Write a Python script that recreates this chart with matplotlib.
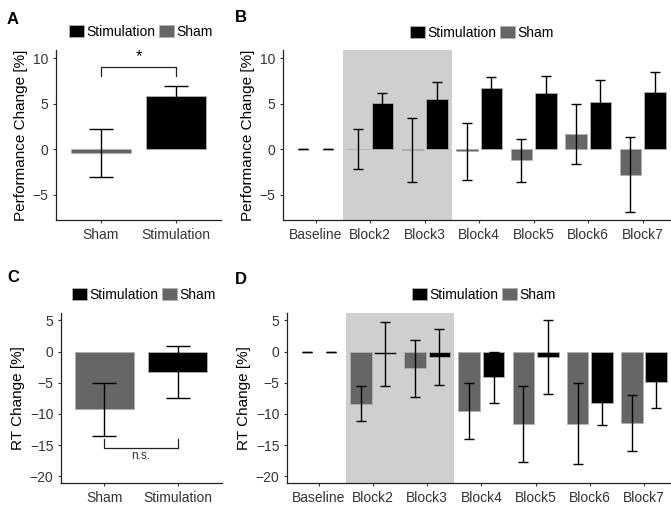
import matplotlib
matplotlib.use("Agg")
import matplotlib.pyplot as plt
from matplotlib.patches import Patch
import numpy as np

plt.rcParams["font.family"] = ["Liberation Sans", "DejaVu Sans"]

# --- data ---
groups = ["Sham", "Stimulation"]
perf_mean = [-0.4, 5.85]
perf_err = [2.65, 1.12]
rt_mean = [-9.29, -3.23]
rt_err = [4.24, 4.16]

blocks = ["Baseline", "Block2", "Block3", "Block4", "Block5", "Block6", "Block7"]
perf_sham = [0, -0.02, -0.12, -0.25, -1.22, 1.64, -2.8]
perf_sham_err = [0, 2.22, 3.5, 3.1, 2.37, 3.28, 4.15]
perf_stim = [0, 5.07, 5.5, 6.73, 6.21, 5.15, 6.29]
perf_stim_err = [0, 1.11, 1.85, 1.25, 1.84, 2.5, 2.17]

rt_sham = [0, -8.35, -2.66, -9.5, -11.7, -11.6, -11.5]
rt_sham_err = [0, 2.75, 4.55, 4.5, 6.1, 6.5, 4.5]
rt_stim = [0, -0.38, -0.9, -4.1, -0.9, -8.24, -4.85]
rt_stim_err = [0, 5.1, 4.5, 4.1, 5.9, 3.56, 4.2]

SHAM = "#666666"
STIM = "#000000"
EDGE = "#b0b0b0"
SHADE = "#cfcfcf"
TXT = "#333333"

W, H = 671, 505
fig = plt.figure(figsize=(W / 100, H / 100), dpi=100)


def px_axes(x0, y0, x1, y1):
    return fig.add_axes([x0 / W, 1 - y1 / H, (x1 - x0) / W, (y1 - y0) / H])


def style(ax, ylabel, yticks, ylim, xlim, labels):
    for s in ("top", "right"):
        ax.spines[s].set_visible(False)
    for s in ("left", "bottom"):
        ax.spines[s].set_linewidth(0.9)
        ax.spines[s].set_color("#222222")
    ax.set_ylim(*ylim)
    ax.set_xlim(*xlim)
    ax.set_yticks(yticks)
    ax.set_xticks(range(len(labels)))
    ax.set_xticklabels(labels)
    ax.tick_params(direction="out", length=2.5, width=0.8, color=TXT,
                   labelcolor=TXT, labelsize=10, pad=3)
    ax.set_ylabel(ylabel, fontsize=11, labelpad=3)
    ax.patch.set_alpha(0)


def legend_at(cx, cy):
    handles = [Patch(facecolor=STIM, edgecolor=EDGE, linewidth=0.6),
               Patch(facecolor=SHAM, edgecolor=EDGE, linewidth=0.6)]
    fig.legend(handles, ["Stimulation", "Sham"], loc="center",
               bbox_to_anchor=(cx / W, 1 - cy / H), ncol=2, frameon=False,
               fontsize=10, handlelength=1.08, handleheight=0.9,
               handletextpad=0.2, columnspacing=0.25, borderpad=0)


def simple_panel(ax, means, errs):
    x = np.arange(len(groups))
    ax.bar(x, means, width=0.8, color=[SHAM, STIM], edgecolor=EDGE,
           linewidth=0.6, zorder=2)
    ax.errorbar(x, means, yerr=errs, fmt="none", ecolor="black",
                elinewidth=1.0, capsize=8.3, capthick=1.0, zorder=3)


def block_panel(ax, sham, sham_err, stim, stim_err):
    x = np.arange(len(blocks))
    ax.axvspan(0.5, 2.5, color=SHADE, lw=0, zorder=0)
    lw_sham = [0 if v == 0 else 0.6 for v in sham]
    lw_stim = [0 if v == 0 else 0.6 for v in stim]
    ax.bar(x - 0.225, sham, width=0.4, color=SHAM, edgecolor=EDGE,
           linewidth=lw_sham, zorder=2)
    ax.bar(x + 0.225, stim, width=0.4, color=STIM, edgecolor=EDGE,
           linewidth=lw_stim, zorder=2)
    ax.errorbar(x - 0.225, sham, yerr=sham_err, fmt="none", ecolor="black",
                elinewidth=1.0, capsize=3.4, capthick=1.0, zorder=3)
    ax.errorbar(x + 0.225, stim, yerr=stim_err, fmt="none", ecolor="black",
                elinewidth=1.0, capsize=3.4, capthick=1.0, zorder=3)


# Panel A
axA = px_axes(56, 50, 221, 220)
simple_panel(axA, perf_mean, perf_err)
style(axA, "Performance Change [%]", [-5, 0, 5, 10], (-7.8, 10.9), (-0.6, 1.6), groups)
axA.plot([0, 0, 1, 1], [8.05, 9.07, 9.07, 8.05], color="#222222", lw=0.9)
axA.text(0.5, 9.3, "*", ha="center", va="bottom", fontsize=12)
legend_at(141, 32)

# Panel B
axB = px_axes(283, 50, 671, 220)
block_panel(axB, perf_sham, perf_sham_err, perf_stim, perf_stim_err)
style(axB, "Performance Change [%]", [-5, 0, 5, 10], (-7.8, 10.9), (-0.6, 6.52), blocks)
legend_at(482, 33)

# Panel C
axC = px_axes(61, 313, 222, 483)
simple_panel(axC, rt_mean, rt_err)
style(axC, "RT Change [%]", [-20, -15, -10, -5, 0, 5], (-21.1, 6.2), (-0.59, 1.6), groups)
axC.plot([0, 0, 1, 1], [-14.0, -15.4, -15.4, -14.0], color="#222222", lw=0.9)
axC.text(0.5, -15.8, "n.s.", ha="center", va="top", fontsize=8.5, color=TXT)
legend_at(144, 295)

# Panel D
axD = px_axes(287, 313, 671, 483)
block_panel(axD, rt_sham, rt_sham_err, rt_stim, rt_stim_err)
style(axD, "RT Change [%]", [-20, -15, -10, -5, 0, 5], (-21.1, 6.2), (-0.59, 6.5), blocks)
legend_at(484, 295)

for letter, (px, py) in {"A": (13, 19), "B": (241, 18), "C": (13, 277), "D": (241, 280)}.items():
    fig.text(px / W, 1 - py / H, letter, ha="center", va="center",
             fontsize=12, fontweight="bold")

fig.savefig("out.png", dpi=100)
